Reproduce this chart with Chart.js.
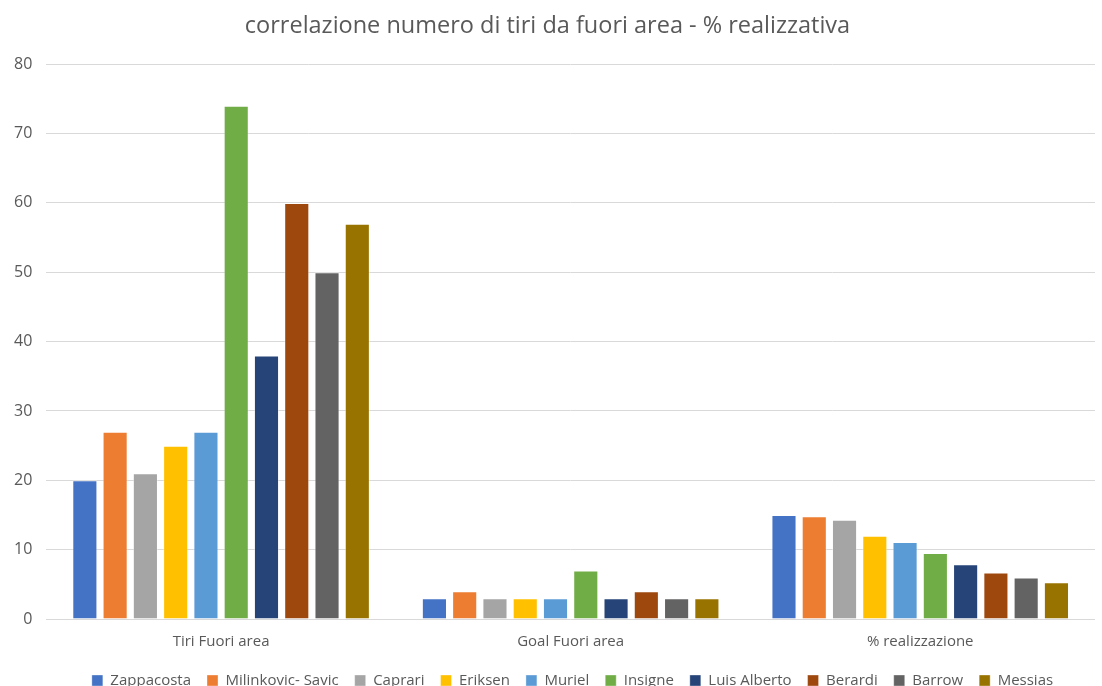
<!DOCTYPE html>
<html>
<head>
<meta charset="utf-8">
<script src="https://cdn.jsdelivr.net/npm/chart.js@4"></script>
<style>
  html, body { margin: 0; padding: 0; background: #fff; }
  #wrap { width: 1102px; height: 686px; }
</style>
</head>
<body>
<div id="wrap"><canvas id="mainChart" width="1102" height="686"></canvas></div>
<script>
// categorie sull'asse x
const categories = [`Tiri Fuori area`, `Goal Fuori area`, `% realizzazione`]

// giocatori (serie)
const players = [`Zappacosta`, `Milinkovic- Savic`, `Caprari`, `Eriksen`, `Muriel`, `Insigne`, `Luis Alberto`, `Berardi`, `Barrow`, `Messias`]

// valori per categoria, un valore per giocatore
const tiriFuoriArea = [20, 27, 21, 25, 27, 74, 38, 60, 50, 57]
const goalFuoriArea = [3, 4, 3, 3, 3, 7, 3, 4, 3, 3]
const percRealizzazione = [15, 14.8, 14.3, 12, 11.1, 9.5, 7.9, 6.7, 6, 5.3]

const yTicks = [0, 10, 20, 30, 40, 50, 60, 70, 80]

const colors = [`#4472C4`, `#ED7D31`, `#A5A5A5`, `#FFC000`, `#5B9BD5`, `#70AD47`, `#264478`, `#9E480E`, `#636363`, `#997300`]

const datasets = players.map((name, i) => ({
  label: name,
  data: [tiriFuoriArea[i], goalFuoriArea[i], percRealizzazione[i]],
  backgroundColor: colors[i],
  borderColor: `rgba(255,255,255,0.35)`,
  borderWidth: 1,
  barPercentage: 0.83,
  categoryPercentage: 0.866,
}))

// sposta la legenda un po' a destra, come nell'originale
const legendShift = {
  id: `legendShift`,
  afterLayout(chart) {
    chart.legend.left += 25
    chart.legend.right += 25
  },
}

const ctx = document.getElementById(`mainChart`)

new Chart(ctx, {
  type: `bar`,
  data: { labels: categories, datasets: datasets },
  plugins: [legendShift],
  options: {
    responsive: false,
    animation: false,
    layout: { padding: { left: 0, right: 7, top: 0, bottom: -12 } },
    plugins: {
      title: {
        display: true,
        text: `correlazione numero di tiri da fuori area - % realizzativa`,
        color: `#595959`,
        font: { family: `Open Sans`, size: 23.5, weight: `normal` },
        padding: { top: 12, bottom: 24 },
      },
      legend: {
        position: `bottom`,
        labels: {
          color: `#595959`,
          font: { family: `Open Sans`, size: 15 },
          boxWidth: 11,
          boxHeight: 11,
          padding: 16,
        },
      },
      tooltip: { enabled: false },
    },
    scales: {
      x: {
        grid: { display: false },
        border: { display: false },
        ticks: { color: `#595959`, font: { family: `Open Sans`, size: 15 }, padding: 6 },
      },
      y: {
        min: 0,
        max: 80,
        afterBuildTicks: (axis) => { axis.ticks = yTicks.map((v) => ({ value: v })) },
        grid: { color: `#D9D9D9`, lineWidth: 1, drawTicks: false },
        border: { display: false },
        ticks: { color: `#595959`, font: { family: `Open Sans`, size: 16 }, padding: 14 },
      },
    },
  },
})
</script>
</body>
</html>
